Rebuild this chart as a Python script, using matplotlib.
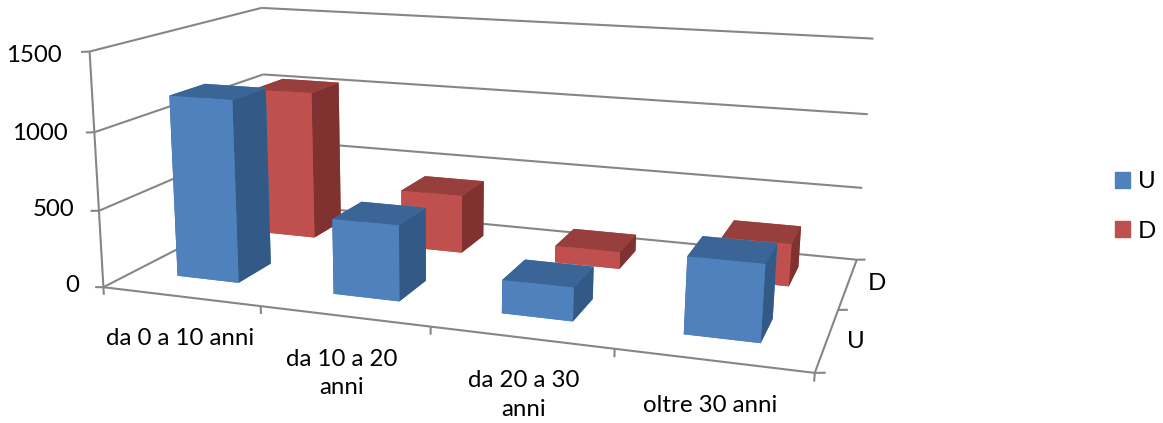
import matplotlib
matplotlib.use('Agg')
import matplotlib.pyplot as plt
from matplotlib.patches import Patch
from mpl_toolkits.mplot3d.art3d import Line3DCollection
import numpy as np

categories = ['da 0 a 10 anni', 'da 10 a 20\nanni', 'da 20 a 30\nanni', 'oltre 30 anni']
series = ['U', 'D']
u_values = [1185, 485, 210, 470]
d_values = [1035, 400, 115, 280]
z_ticks = [0, 500, 1000, 1500]

# colours per face: bottom, top, front, back, left, right
blue = ['#4F81BD', '#3A6596', '#4F81BD', '#4F81BD', '#335A86', '#335A86']
red = ['#C0504D', '#963F3C', '#C0504D', '#C0504D', '#7F3230', '#7F3230']
grid = '#868686'

plt.rcParams['font.family'] = ['Lato', 'DejaVu Sans']
W, H = 1163, 423
FS = 17.3

# camera calibration: box corners of the plot -> pixels in the picture
box = np.array([
    [0, 0, 0], [0, 0, 500], [0, 0, 1000], [0, 0, 1500],
    [4, 0, 0], [4, 2, 0], [4, 2, 500], [4, 2, 1000], [4, 2, 1500],
    [0, 2, 0], [0, 2, 500], [0, 2, 1000], [0, 2, 1500]], dtype=float)
pix = np.array([
    [105, 284], [100, 209], [93, 132], [88, 54],
    [815, 376], [857, 257], [862, 186], [868, 115], [873, 40],
    [265, 208], [265, 140], [264, 72], [263, 7]], dtype=float)


def fit_camera(pts, uv):
    rows = []
    for (x, y, z), (u, v) in zip(pts, uv):
        p = [x, y, z / 1500, 1]
        rows.append(p + [0, 0, 0, 0] + [-u * c for c in p])
        rows.append([0, 0, 0, 0] + p + [-v * c for c in p])
    cam = np.linalg.svd(np.array(rows))[2][-1].reshape(3, 4)
    cam[:, 2] /= 1500
    if cam[2] @ [2, 1, 750, 1] < 0:
        cam = -cam
    return cam


cam = fit_camera(box, pix)
M = np.vstack([cam[0], cam[1], [0, 0, 0, -1], cam[2]])

fig = plt.figure(figsize=(W / 100, H / 100), dpi=100)
ax = fig.add_axes([0, 0, 1, 1], projection='3d')
ax.set_axis_off()
ax.set_xticks([])
ax.set_yticks([])
ax.set_zticks([])
ax.computed_zorder = False
ax.get_proj = lambda: M
ax.apply_aspect = lambda position=None: None
ax.viewLim.intervalx = (0, W)
ax.viewLim.intervaly = (H, 0)

# walls, floor and tick marks
segs = []
for z in z_ticks:
    segs.append([(0, 0, z), (0, 2, z)])
    segs.append([(0, 2, z), (4, 2, z)])
    segs.append([(0, 0, z), (-0.055, 0, z - 6)])
segs.append([(0, 0, 0), (0, 0, 1500)])
segs.append([(0, 0, 0), (4, 0, 0)])
segs.append([(4, 0, 0), (4, 2, 0)])
for i in range(5):
    segs.append([(i, 0, 0), (i, 0, -50)])
for j in range(3):
    segs.append([(4, j, 0), (4.05, j + 0.02, 0)])
lines = Line3DCollection(segs, colors=grid, linewidths=1.5, zorder=1)
ax.add_collection3d(lines)

# bars, back row first
for j, (vals, cols) in enumerate(zip([d_values, u_values], [red, blue])):
    y0 = (1 - j) + 0.33
    for i, v in enumerate(vals):
        b = ax.bar3d(i + 0.285, y0, 0, 0.4, 0.4, v, color=cols, shade=False, edgecolor='none')
        b.set_zorder(5 + 2 * j)


def label(x, y, s, **kw):
    fig.text(x / W, 1 - y / H, s, fontsize=FS, color='black', va='center', **kw)


for z, x, y in zip(z_ticks, [79, 74, 68, 62], [285, 209, 133, 55]):
    label(x, y, str(z), ha='right')
for c, x, y in zip(categories, [180, 342, 524, 710], [338, 373.5, 395, 405]):
    label(x, y, c, ha='center', linespacing=1.42)
for s, x, y in zip(series, [856, 877], [341, 283]):
    label(x, y, s, ha='center')

handles = [Patch(color=blue[0], label='U'), Patch(color=red[0], label='D')]
fig.legend(handles=handles, loc='center left', bbox_to_anchor=(1115 / W, 1 - 206.5 / H), frameon=False,
           fontsize=FS, handlelength=0.625, handleheight=0.625, handletextpad=0.33, labelspacing=1.18,
           borderpad=0, borderaxespad=0)

fig.savefig('out.png', dpi=100)
